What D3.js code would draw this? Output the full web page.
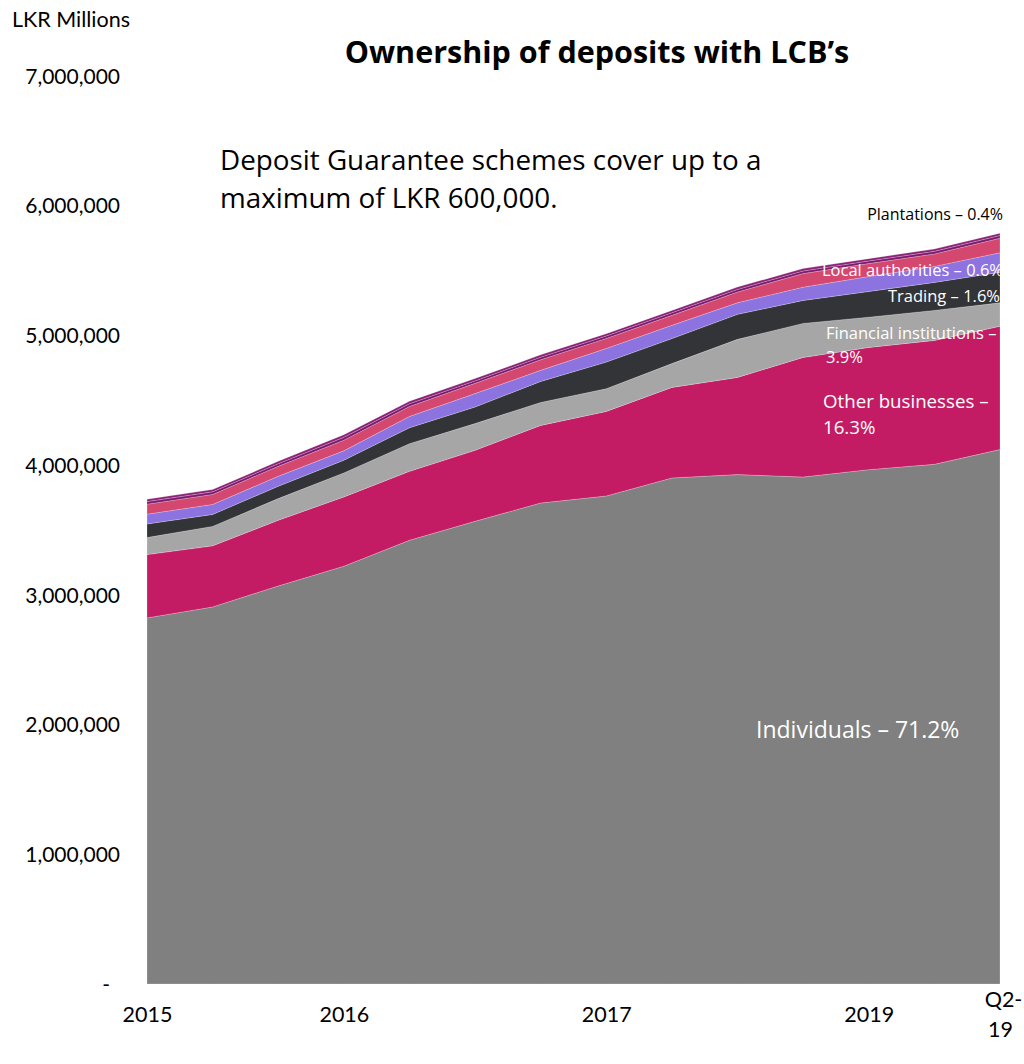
<!DOCTYPE html>
<html>
<head>
<meta charset="utf-8">
<script src="https://cdn.jsdelivr.net/npm/d3@7/dist/d3.min.js"></script>
<style>
  html, body { margin: 0; padding: 0; background: #fff; }
  svg { display: block; font-family: "Open Sans", "Noto Sans", sans-serif; }
</style>
</head>
<body>
<svg id="chart" width="1024" height="1064"></svg>
<script>
// Period labels along the x axis (blank periods carry no label)
const periods = ["2015", "", "", "2016", "", "", "", "2017", "", "", "", "2019", "", "Q2-19"];

// Deposits by owner, LKR millions
const individuals       = [2821000, 2905000, 3067000, 3219000, 3419000, 3565000, 3706000, 3760000, 3899000, 3925000, 3906000, 3963000, 4004000, 4118000];
const otherBusinesses   = [488000, 471000, 506000, 534000, 531000, 547000, 598000, 652000, 698000, 749000, 922000, 942000, 955000, 950000];
const financialInst     = [131000, 150000, 167000, 185000, 213000, 206000, 177000, 175000, 183000, 293000, 262000, 233000, 231000, 181000];
const trading           = [105000, 92000, 95000, 98000, 123000, 128000, 162000, 205000, 193000, 193000, 177000, 198000, 216000, 235000];
const otherOwners       = [75000, 77000, 77000, 72000, 87000, 103000, 85000, 105000, 102000, 89000, 102000, 115000, 123000, 150000];
const localAuthorities  = [77000, 77000, 77000, 82000, 77000, 79000, 82000, 77000, 77000, 83000, 105000, 100000, 96000, 112000];
const plantations       = [20000, 20000, 20000, 22000, 21000, 19000, 20000, 19000, 20000, 20000, 20000, 20000, 20000, 21000];
const others            = [18000, 18000, 18000, 20000, 20000, 18000, 18000, 18000, 18000, 18000, 18000, 18000, 18000, 18000];

const yTicks = [0, 1000000, 2000000, 3000000, 4000000, 5000000, 6000000, 7000000];

const keys   = ["individuals", "otherBusinesses", "financialInst", "trading", "otherOwners", "localAuthorities", "plantations", "others"];
const colors = ["#808080", "#C31C64", "#A6A6A6", "#333438", "#8C73DF", "#D4486F", "#7E1A6E", "#8A2276"];

const rows = periods.map((p, i) => ({
  i,
  individuals: individuals[i],
  otherBusinesses: otherBusinesses[i],
  financialInst: financialInst[i],
  trading: trading[i],
  otherOwners: otherOwners[i],
  localAuthorities: localAuthorities[i],
  plantations: plantations[i],
  others: others[i]
}));

const svg = d3.select("#chart");

const x = d3.scalePoint().domain(d3.range(periods.length)).range([147, 1000]);
const y = d3.scaleLinear().domain([0, 7000000]).range([984, 75.5]);

const series = d3.stack().keys(keys)(rows);

const area = d3.area()
  .x(d => x(d.data.i))
  .y0(d => y(d[0]))
  .y1(d => y(d[1]));

svg.append("g")
  .selectAll("path")
  .data(series)
  .join("path")
  .attr("d", area)
  .attr("fill", (d, k) => colors[k])
  .attr("stroke", "#ffffff")
  .attr("stroke-opacity", 0.35)
  .attr("stroke-width", 0.6);

// Y axis: labels only
const yAxis = d3.axisLeft(y)
  .tickValues(yTicks)
  .tickSize(0)
  .tickPadding(0)
  .tickFormat(v => v === 0 ? "-" : d3.format(",")(v));

const yg = svg.append("g").attr("transform", "translate(120,0)").call(yAxis);
yg.select(".domain").remove();
yg.selectAll("text")
  .attr("font-family", "Lato, sans-serif")
  .attr("font-size", 21)
  .attr("fill", "#000")
  .attr("dy", "0.36em");
yg.selectAll(".tick").filter(d => d === 0).select("text").attr("x", -10);

// X axis: period labels
const xAxis = d3.axisBottom(x)
  .tickSize(0)
  .tickPadding(0)
  .tickFormat(i => periods[i]);

const xg = svg.append("g").attr("transform", "translate(0,1007)").call(xAxis);
xg.select(".domain").remove();
xg.selectAll(".tick").filter(i => periods[i] === "").remove();
xg.selectAll("text")
  .attr("font-family", "Lato, sans-serif")
  .attr("font-size", 21.5)
  .attr("fill", "#000")
  .attr("dy", "0.71em");
xg.selectAll(".tick").filter(i => periods[i] === "Q2-19").select("text")
  .text(null)
  .attr("x", 0)
  .call(t => {
    t.append("tspan").attr("x", 3).attr("dy", 0).text("Q2-");
    t.append("tspan").attr("x", 0).attr("dy", "1.38em").text("19");
  });

// Titles and notes
svg.append("text")
  .attr("x", 12).attr("y", 27)
  .attr("font-family", "Lato, sans-serif")
  .attr("font-size", 21.5)
  .text("LKR Millions");

svg.append("text")
  .attr("x", 597).attr("y", 63)
  .attr("text-anchor", "middle")
  .attr("font-size", 30.5)
  .attr("font-weight", "bold")
  .text("Ownership of deposits with LCB’s");

svg.append("text")
  .attr("x", 220).attr("y", 170)
  .attr("font-size", 27.8)
  .text("Deposit Guarantee schemes cover up to a");
svg.append("text")
  .attr("x", 220).attr("y", 208)
  .attr("font-size", 27.8)
  .text("maximum of LKR 600,000.");

// Layer annotations
const notes = [
  { t: "Plantations – 0.4%",        x: 1003, y: 220, s: 16,   c: "#000", a: "end" },
  { t: "Local authorities – 0.6%",  x: 1003, y: 276, s: 16.5, c: "#fff", a: "end" },
  { t: "Trading – 1.6%",            x: 1000, y: 302, s: 16.5, c: "#fff", a: "end" },
  { t: "Financial institutions –",  x: 826,  y: 339, s: 16.5, c: "#fff", a: "start" },
  { t: "3.9%",                      x: 826,  y: 363, s: 16.5, c: "#fff", a: "start" },
  { t: "Other businesses –",        x: 823,  y: 408, s: 18.7, c: "#fff", a: "start" },
  { t: "16.3%",                     x: 823,  y: 434, s: 18.7, c: "#fff", a: "start" },
  { t: "Individuals – 71.2%",       x: 756,  y: 738, s: 23,   c: "#fff", a: "start" }
];
svg.append("g")
  .selectAll("text")
  .data(notes)
  .join("text")
  .attr("x", d => d.x)
  .attr("y", d => d.y)
  .attr("font-size", d => d.s)
  .attr("fill", d => d.c)
  .attr("text-anchor", d => d.a)
  .text(d => d.t);
</script>
</body>
</html>
